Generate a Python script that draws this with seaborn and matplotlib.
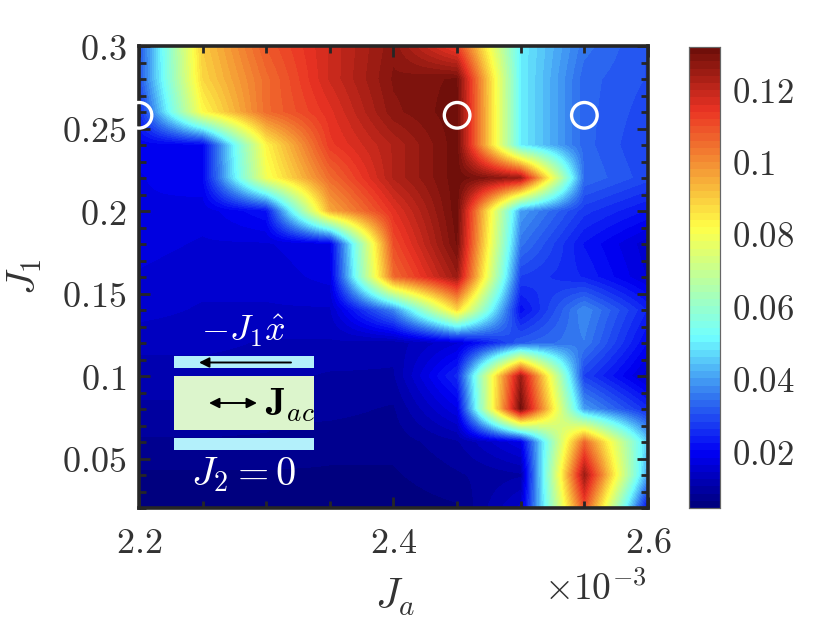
import numpy as np
import pandas as pd
import seaborn as sns
import matplotlib.pyplot as plt
from matplotlib.colors import LinearSegmentedColormap
from matplotlib.patches import Rectangle

# Values
ja = [2.2, 2.25, 2.3, 2.35, 2.4, 2.45, 2.5, 2.55, 2.6]
j1 = [0.3, 0.28, 0.26, 0.24, 0.22, 0.2, 0.18, 0.16, 0.14, 0.12, 0.1, 0.08, 0.06, 0.04, 0.02]

r30 = [.030, .090, .108, .118, .127, .112, .050, .035, .030]
r28 = [.030, .088, .105, .118, .128, .130, .050, .033, .030]
r26 = [.025, .082, .105, .115, .127, .131, .050, .033, .029]
r24 = [.019, .020, .083, .113, .122, .131, .050, .033, .028]
r22 = [.018, .020, .079, .105, .122, .131, .125, .034, .029]
r20 = [.018, .017, .022, .095, .115, .131, .040, .027, .022]
r18 = [.017, .016, .016, .018, .110, .130, .035, .022, .015]
r16 = [.016, .015, .015, .017, .105, .125, .028, .024, .016]
r14 = [.015, .014, .014, .014, .037, .088, .021, .038, .024]
r12 = [.013, .013, .012, .012, .011, .016, .032, .036, .020]
r10 = [.011, .011, .011, .010, .010, .025, .125, .028, .015]
r08 = [.010, .010, .009, .009, .008, .018, .131, .040, .025]
r06 = [.008, .008, .008, .007, .007, .010, .018, .106, .045]
r04 = [.006, .006, .006, .006, .006, .008, .010, .125, .040]
r02 = [.004, .004, .005, .005, .005, .006, .015, .110, .020]

circle_ja = [2.2, 2.45, 2.55]
circle_j1 = [0.258, 0.258, 0.258]

ja_major = [2.2, 2.4, 2.6]
ja_minor = [2.25, 2.3, 2.35, 2.45, 2.5, 2.55]
j1_major = [0.05, 0.1, 0.15, 0.2, 0.25, 0.3]
j1_labels = ["0.05", "0.1", "0.15", "0.2", "0.25", "0.3"]
j1_minor = [0.02, 0.03, 0.04, 0.06, 0.07, 0.08, 0.09, 0.11, 0.12, 0.13, 0.14, 0.16, 0.17,
            0.18, 0.19, 0.21, 0.22, 0.23, 0.24, 0.26, 0.27, 0.28, 0.29]
cbar_ticks = [0.02, 0.04, 0.06, 0.08, 0.1, 0.12]
cbar_labels = ["0.02", "0.04", "0.06", "0.08", "0.1", "0.12"]

sns.set_theme(style="white")
plt.rcParams["mathtext.fontset"] = "cm"
plt.rcParams["font.family"] = ["DejaVu Serif"]

df = pd.DataFrame([r30, r28, r26, r24, r22, r20, r18, r16, r14, r12, r10, r08, r06, r04, r02],
                  index=j1, columns=ja)

cmap = LinearSegmentedColormap.from_list("dark_jet", [
    (0.0, (0, 0, 0.5)),
    (0.115, (0, 0, 0.96)),
    (0.24, (0.2, 0.47, 0.94)),
    (0.369, (0.44, 1, 1)),
    (0.61, (1, 1, 0.28)),
    (0.868, (0.92, 0.2, 0.14)),
    (1.0, (0.44, 0.06, 0.04)),
], N=64)

W, H = 828, 622
fig = plt.figure(figsize=(W / 100, H / 100), dpi=100)
ax = fig.add_axes([139 / W, 1 - 508 / H, 509 / W, 462 / H])
cax = fig.add_axes([689 / W, 1 - 508 / H, 31 / W, 461 / H])

vmin, vmax = 0.0043, 0.1316
sns.heatmap(df, ax=ax, cbar_ax=cax, cmap=cmap, vmin=vmin, vmax=vmax,
            xticklabels=False, yticklabels=False)
ax.collections[0].set_visible(False)

# smooth shading over the same table, cell centres sit at i + 0.5
n_rows, n_cols = df.shape
ax.imshow(df.values, cmap=cmap, vmin=vmin, vmax=vmax, aspect="auto",
          interpolation="bilinear", interpolation_stage="data",
          extent=(0, n_cols, n_rows, 0), zorder=1)
ax.set_axisbelow(False)


def xpos(v):
    return np.interp(v, ja, np.arange(n_cols) + 0.5)


def ypos(v):
    return np.interp(v, j1[::-1], (np.arange(n_rows) + 0.5)[::-1])


ax.set_xticks(xpos(ja_major))
ax.set_xticklabels([f"${v}$" for v in ja_major], fontsize=26, color="#333333")
ax.set_xticks(xpos(ja_minor), minor=True)
ax.set_yticks(ypos(j1_major))
ax.set_yticklabels([f"${s}$" for s in j1_labels], fontsize=26, color="#333333", rotation=0)
ax.set_yticks(ypos(j1_minor), minor=True)
ax.tick_params(which="major", direction="in", length=8, width=2, color="#262626",
               top=True, right=True, bottom=True, left=True)
ax.tick_params(which="minor", direction="in", length=5, width=2, color="#262626",
               top=True, right=True, bottom=True, left=True)
ax.tick_params(axis="x", which="major", pad=13)
ax.tick_params(axis="y", which="major", pad=9)
for s in ax.spines.values():
    s.set_visible(True)
    s.set_linewidth(2.6)
    s.set_color("#262626")
    s.set_zorder(5)

sns.scatterplot(x=xpos(circle_ja), y=ypos(circle_j1), ax=ax, s=340, marker="o",
                facecolor="none", edgecolor="white", linewidth=2.4, clip_on=False,
                legend=False, zorder=6)
ax.set_xlim(0.5, n_cols - 0.5)
ax.set_ylim(n_rows - 0.5, 0.5)

cax.set_yticks(cbar_ticks)
cax.set_yticklabels([f"${s}$" for s in cbar_labels], fontsize=25, color="#333333")
cax.tick_params(axis="y", direction="in", length=4, width=0.8, color="#333333",
                left=False, right=True, pad=9)
for s in cax.spines.values():
    s.set_visible(True)
    s.set_linewidth(0.8)
    s.set_color("#666666")

fig.text(25 / W, 1 - 277 / H, "$J_1$", fontsize=29, rotation=90, ha="center", va="center", color="#333333")
fig.text(395 / W, 1 - 597 / H, "$J_a$", fontsize=30, ha="center", va="center", color="#333333")
fig.text(595 / W, 1 - 590 / H, r"$\times 10^{-3}$", fontsize=27, ha="center", va="center", color="#333333")

# schematic in the lower left corner, placed in figure pixels
for x0, x1, y0, y1, col in [(174, 314, 356, 368, "#b3f0fb"),
                            (174, 314, 376, 430, "#dcf5cc"),
                            (174, 314, 438, 450, "#b3f0fb")]:
    fig.add_artist(Rectangle((x0 / W, 1 - y1 / H), (x1 - x0) / W, (y1 - y0) / H,
                             transform=fig.transFigure, facecolor=col, edgecolor="none", zorder=7))
ax_arrow = dict(xycoords="figure pixels", textcoords="figure pixels", zorder=8)
ann1 = ax.annotate("", xy=(199, H - 362.5), xytext=(291, H - 362.5),
                   arrowprops=dict(arrowstyle="-|>", color="black", lw=1.4, mutation_scale=15,
                                   shrinkA=0, shrinkB=0), **ax_arrow)
ann2 = ax.annotate("", xy=(209, H - 403), xytext=(257, H - 403),
                   arrowprops=dict(arrowstyle="<|-|>", color="black", lw=1.4, mutation_scale=15,
                                   shrinkA=0, shrinkB=0), **ax_arrow)
for a in (ann1, ann2):
    a.set_zorder(8)
    a.set_annotation_clip(False)
    a.remove()
    fig.add_artist(a)

fig.text(243 / W, 1 - 331 / H, r"$-J_1\hat{x}$", fontsize=26, color="white", ha="center", va="center", zorder=9)
fig.text(290 / W, 1 - 405 / H, r"$\mathbf{J}_{ac}$", fontsize=28, color="black", ha="center", va="center", zorder=9)
fig.text(244 / W, 1 - 475 / H, r"$J_2=0$", fontsize=29, color="white", ha="center", va="center", zorder=9)

fig.savefig("out.png", dpi=100)
